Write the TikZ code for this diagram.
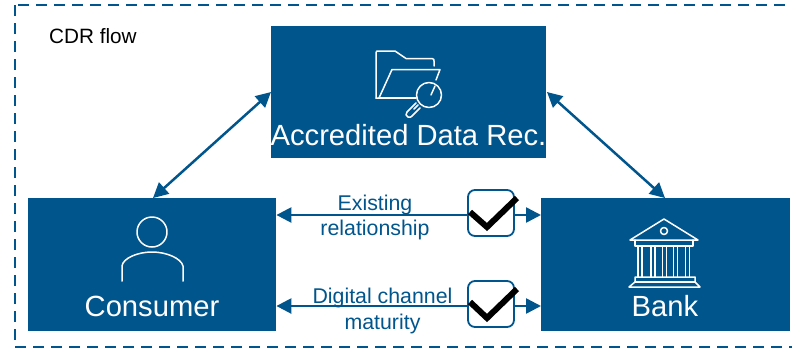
\documentclass[tikz,border=0pt]{standalone}
\usepackage{fontspec}
\setmainfont{Liberation Sans}
\usetikzlibrary{arrows.meta}
\definecolor{cdrblue}{HTML}{00558C}
\tikzset{
  x=1bp,y=-1bp,
  panel/.style={fill=cdrblue,draw=none,anchor=north west,inner sep=0pt,minimum width=#1,minimum height=133bp},
  panel/.default=248bp,
  paneltext/.style={text=white,font=\fontsize{29.3}{29.3}\selectfont,inner sep=0pt},
  flowlabel/.style={text=cdrblue,font=\fontsize{21.4}{25.5}\selectfont,align=center,inner sep=0pt},
  arrowline/.style={draw=cdrblue,line width=2.5bp,{Triangle[length=15bp,width=15bp]}-{Triangle[length=15bp,width=15bp]}},
  iconline/.style={draw=white,line width=1.5bp,line join=round,line cap=round},
  checkbox/.style={draw=cdrblue,line width=1.8bp,fill=white,rounded corners=7bp,minimum width=46bp,minimum height=46bp,inner sep=0pt},
  tick/.style={draw=black,line width=6bp,line cap=butt,line join=miter}
}
\begin{document}
\begin{tikzpicture}
\useasboundingbox (0,0) rectangle (792,349);
\clip (0,0) rectangle (792,349);
\draw[cdrblue,line width=2.2bp,dash pattern=on 11bp off 7bp] (15,5) rectangle (805,347);
\node[anchor=west,inner sep=0pt,font=\fontsize{20.8}{20.8}\selectfont] (title) at (49,36) {CDR flow};

\node[panel=275bp,minimum height=132bp] (adr) at (271,26) {};
\node[panel=248bp] (cons) at (28,198) {};
\node[panel=248.5bp] (bank) at (541,198) {};

\node[paneltext] (adrt) at (408.5,135) {Accredited Data Rec.};
\node[paneltext] (const) at (152,306) {Consumer};
\node[paneltext] (bankt) at (665,306) {Bank};

% folder icon
\draw[iconline] (376,98) -- (376,53) .. controls (376,51) and (377,51) .. (378,51) -- (395,51) -- (406,58.5) -- (432,58.5) .. controls (434,58.5) and (434,60) .. (434,61) -- (434,66);
\draw[iconline] (376,98) -- (379,98) -- (392,69.5) -- (440,69.5) -- (436,80);
\draw[iconline] (379,98) -- (416,98);
\draw[iconline] (435,86) -- (431,95);
\draw[iconline] (429,95) circle (12.5);
\draw[iconline] (418,105) -- (414,109) (416,103) -- (407,112) .. controls (405,114) and (406,116) .. (408,117) .. controls (410,118) and (411,117) .. (412,116) -- (420,108);

% person icon
\draw[iconline] (152,232) circle (15);
\draw[iconline] (122,281) -- (122,266) .. controls (123,258) and (138,252) .. (152,252) .. controls (166,252) and (181,258) .. (183,266) -- (183,281);

% bank icon
\draw[iconline] (630,240) -- (664,219) -- (698,240) -- cycle;
\draw[iconline] (664,231) circle (3.5);
\draw[iconline] (635,240) -- (635,246) -- (693,246) -- (693,240);
\foreach \cx in {640,653,664.5,675.5,687.5}{
  \draw[iconline] (\cx-1.8,246) -- (\cx-1.8,277) (\cx+1.8,246) -- (\cx+1.8,277);
}
\draw[iconline] (635,277) -- (695,277) -- (695,282) -- (700,287) -- (629,287) -- (635,282) -- cycle;
\draw[iconline] (635,282) -- (695,282);

% arrows
\coordinate (a1) at (adr.west |- 0,92);
\coordinate (c1) at (153,198);
\coordinate (a2) at (547,92);
\coordinate (b1) at (665,198);
\draw[arrowline] (a1) -- (c1);
\draw[arrowline] (a2) -- (b1);
\coordinate (l1) at (cons.east |- 0,215);
\coordinate (r1) at (bank.west |- 0,215);
\coordinate (l2) at (cons.east |- 0,306);
\coordinate (r2) at (bank.west |- 0,306);
\draw[arrowline] (l1) -- (r1);
\draw[arrowline] (l2) -- (r2);

\node[flowlabel] (lab1) at (375,217.5) {Existing\\relationship};
\node[flowlabel] (lab2) at (382.5,311) {Digital channel\\maturity};

\node[checkbox] (box1) at (491,213) {};
\node[checkbox] (box2) at (491,304) {};
\draw[tick] (470,212) -- (487,227) -- (517,198);
\draw[tick] (470,302) -- (487,318) -- (517,289);
\end{tikzpicture}
\end{document}
